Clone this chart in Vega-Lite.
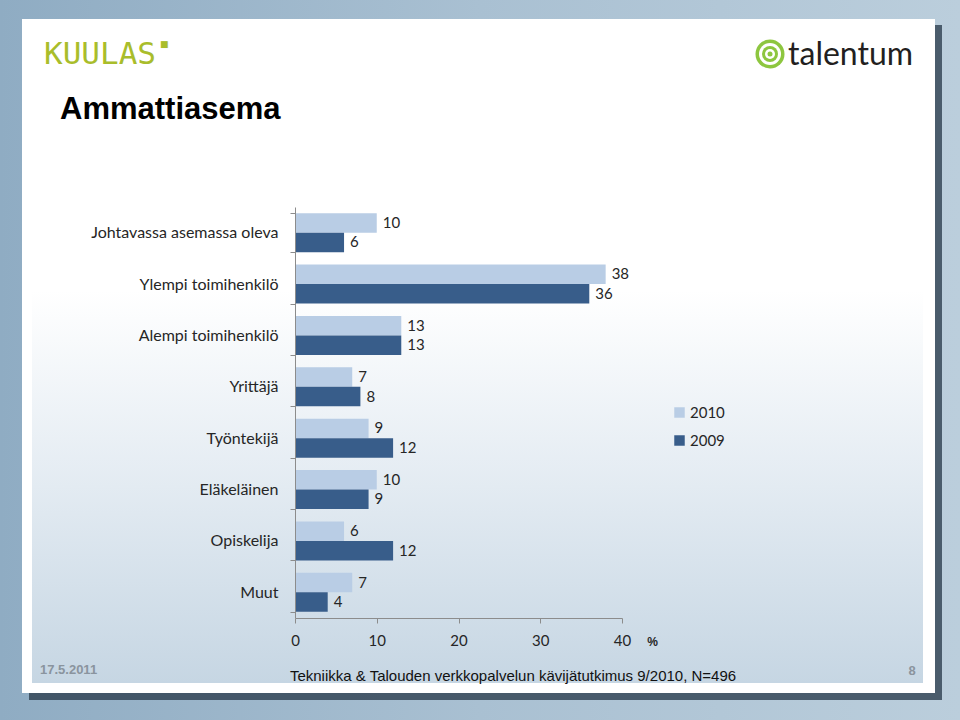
{
  "$schema": "https://vega.github.io/schema/vega-lite/v6.json",
  "width": 327,
  "height": 411,
  "autosize": {"type": "none"},
  "padding": {"left": 295, "top": 207, "right": 338, "bottom": 102},
  "background": "#A9BFD1",
  "config": {
    "view": {"stroke": null},
    "axis": {
      "labelFont": "Lato",
      "labelFontSize": 15,
      "labelColor": "#262626",
      "domainColor": "#8C8C8C",
      "tickColor": "#8C8C8C",
      "tickSize": 5,
      "grid": false
    }
  },
  "data": {
    "values": [
      {"category": "Johtavassa asemassa  oleva", "year": "2010", "value": 10},
      {"category": "Johtavassa asemassa  oleva", "year": "2009", "value": 6},
      {"category": "Ylempi toimihenkilö", "year": "2010", "value": 38},
      {"category": "Ylempi toimihenkilö", "year": "2009", "value": 36},
      {"category": "Alempi toimihenkilö", "year": "2010", "value": 13},
      {"category": "Alempi toimihenkilö", "year": "2009", "value": 13},
      {"category": "Yrittäjä", "year": "2010", "value": 7},
      {"category": "Yrittäjä", "year": "2009", "value": 8},
      {"category": "Työntekijä", "year": "2010", "value": 9},
      {"category": "Työntekijä", "year": "2009", "value": 12},
      {"category": "Eläkeläinen", "year": "2010", "value": 10},
      {"category": "Eläkeläinen", "year": "2009", "value": 9},
      {"category": "Opiskelija", "year": "2010", "value": 6},
      {"category": "Opiskelija", "year": "2009", "value": 12},
      {"category": "Muut", "year": "2010", "value": 7},
      {"category": "Muut", "year": "2009", "value": 4}
    ]
  },
  "layer": [
    {
      "data": {"values": [{"part": "outer"}]},
      "mark": {
        "type": "rect",
        "color": {
          "gradient": "linear", "x1": 0, "y1": 0, "x2": 1, "y2": 0,
          "stops": [
            {"offset": 0, "color": "#8FACC3"},
            {"offset": 0.5, "color": "#A9C0D2"},
            {"offset": 1, "color": "#BBCEDC"}
          ]
        }
      },
      "encoding": {
        "x": {"value": -295}, "x2": {"value": 665},
        "y": {"value": -207}, "y2": {"value": 513}
      }
    },
    {
      "data": {"values": [{"part": "shadow"}]},
      "mark": {"type": "rect", "color": "#2E4050", "opacity": 0.8},
      "encoding": {
        "x": {"value": -266}, "x2": {"value": 647},
        "y": {"value": -182}, "y2": {"value": 493}
      }
    },
    {
      "data": {"values": [{"part": "slide"}]},
      "mark": {"type": "rect", "color": "#FFFFFF"},
      "encoding": {
        "x": {"value": -273}, "x2": {"value": 640},
        "y": {"value": -188}, "y2": {"value": 486}
      }
    },
    {
      "data": {"values": [{"part": "content"}]},
      "mark": {
        "type": "rect",
        "color": {
          "gradient": "linear", "x1": 0, "y1": 0, "x2": 0, "y2": 1,
          "stops": [
            {"offset": 0, "color": "#FFFFFF"},
            {"offset": 0.4, "color": "#FFFFFF"},
            {"offset": 0.7, "color": "#E3EBF2"},
            {"offset": 1, "color": "#C6D6E3"}
          ]
        }
      },
      "encoding": {
        "x": {"value": -263}, "x2": {"value": 628},
        "y": {"value": -178}, "y2": {"value": 476}
      }
    },
    {
      "data": {"values": [{"label": "KUULAS"}]},
      "mark": {"type": "text", "font": "DejaVu Sans Mono", "fontSize": 31, "color": "#A9BD2B", "align": "left", "baseline": "alphabetic"},
      "encoding": {"text": {"field": "label"}, "x": {"value": -251}, "y": {"value": -143}}
    },
    {
      "data": {"values": [{"label": "■"}]},
      "mark": {"type": "text", "font": "DejaVu Sans", "fontSize": 9, "color": "#A9BD2B", "align": "left", "baseline": "middle"},
      "encoding": {"text": {"field": "label"}, "x": {"value": -135}, "y": {"value": -163}}
    },
    {
      "data": {"values": [{"d": 841, "c": "#8DC63F"}, {"d": 484, "c": "#FFFFFF"}, {"d": 256, "c": "#8DC63F"}, {"d": 100, "c": "#FFFFFF"}, {"d": 25, "c": "#8DC63F"}]},
      "mark": {"type": "point", "shape": "circle", "filled": true, "opacity": 1, "strokeWidth": 0},
      "encoding": {
        "x": {"value": 475}, "y": {"value": -153},
        "size": {"field": "d", "type": "quantitative", "scale": null, "legend": null},
        "fill": {"field": "c", "type": "nominal", "scale": null, "legend": null},
        "order": {"field": "d", "sort": "descending"}
      }
    },
    {
      "data": {"values": [{"label": "talentum"}]},
      "mark": {"type": "text", "font": "Lato", "fontSize": 32, "color": "#231F20", "align": "left", "baseline": "alphabetic"},
      "encoding": {"text": {"field": "label"}, "x": {"value": 493}, "y": {"value": -142}}
    },
    {
      "data": {"values": [{"label": "Ammattiasema"}]},
      "mark": {"type": "text", "font": "Liberation Sans", "fontSize": 31, "fontWeight": "bold", "color": "#000000", "align": "left", "baseline": "alphabetic"},
      "encoding": {"text": {"field": "label"}, "x": {"value": -235}, "y": {"value": -88}}
    },
    {
      "mark": {"type": "bar"},
      "encoding": {
        "y": {
          "field": "category", "type": "nominal", "sort": null,
          "scale": {"paddingInner": 0.243, "paddingOuter": 0.1215},
          "axis": {"title": null, "tickBand": "extent", "labelPadding": 12, "labelLimit": 300, "labelFontSize": 16, "zindex": 3},
          "title": null
        },
        "yOffset": {"field": "year", "type": "nominal", "sort": ["2010", "2009"]},
        "x": {
          "field": "value", "type": "quantitative",
          "scale": {"domain": [0, 40]},
          "axis": {
            "zindex": 3,
            "values": [0, 10, 20, 30, 40],
            "labelPadding": 10,
            "labelFlush": false,
            "title": "%",
            "titleFont": "Liberation Sans",
            "titleFontSize": 12,
            "titleFontWeight": "bold",
            "titleColor": "#262626",
            "titleX": 357,
            "titleY": 23,
            "titleAlign": "center",
            "titleBaseline": "middle"
          }
        },
        "color": {
          "field": "year", "type": "nominal",
          "scale": {"domain": ["2010", "2009"], "range": ["#B9CDE5", "#385D8A"]},
          "legend": {
            "zindex": 3,
            "title": null,
            "orient": "none",
            "legendX": 377,
            "legendY": 198,
            "symbolType": "square",
            "symbolSize": 110,
            "symbolStrokeWidth": 0,
            "labelFont": "Lato",
            "labelFontSize": 15,
            "labelColor": "#262626",
            "rowPadding": 12,
            "labelOffset": 3
          }
        }
      }
    },
    {
      "mark": {"type": "text", "align": "left", "baseline": "middle", "dx": 6, "font": "Lato", "fontSize": 15, "color": "#262626"},
      "encoding": {
        "y": {"field": "category", "type": "nominal", "sort": null},
        "yOffset": {"field": "year", "type": "nominal", "sort": ["2010", "2009"]},
        "x": {"field": "value", "type": "quantitative"},
        "text": {"field": "value", "type": "quantitative"}
      }
    },
    {
      "data": {"values": [{"label": "Tekniikka & Talouden verkkopalvelun kävijätutkimus 9/2010, N=496"}]},
      "mark": {"type": "text", "font": "Liberation Sans", "fontSize": 15, "color": "#111111", "align": "center", "baseline": "middle"},
      "encoding": {"text": {"field": "label"}, "x": {"value": 218}, "y": {"value": 469}}
    },
    {
      "data": {"values": [{"label": "17.5.2011"}]},
      "mark": {"type": "text", "font": "Liberation Sans", "fontSize": 13, "fontWeight": "bold", "color": "#8A949E", "align": "left", "baseline": "middle"},
      "encoding": {"text": {"field": "label"}, "x": {"value": -255}, "y": {"value": 463}}
    },
    {
      "data": {"values": [{"label": "8"}]},
      "mark": {"type": "text", "font": "Liberation Sans", "fontSize": 13, "fontWeight": "bold", "color": "#8A949E", "align": "center", "baseline": "middle"},
      "encoding": {"text": {"field": "label"}, "x": {"value": 617}, "y": {"value": 464}}
    }
  ]
}
